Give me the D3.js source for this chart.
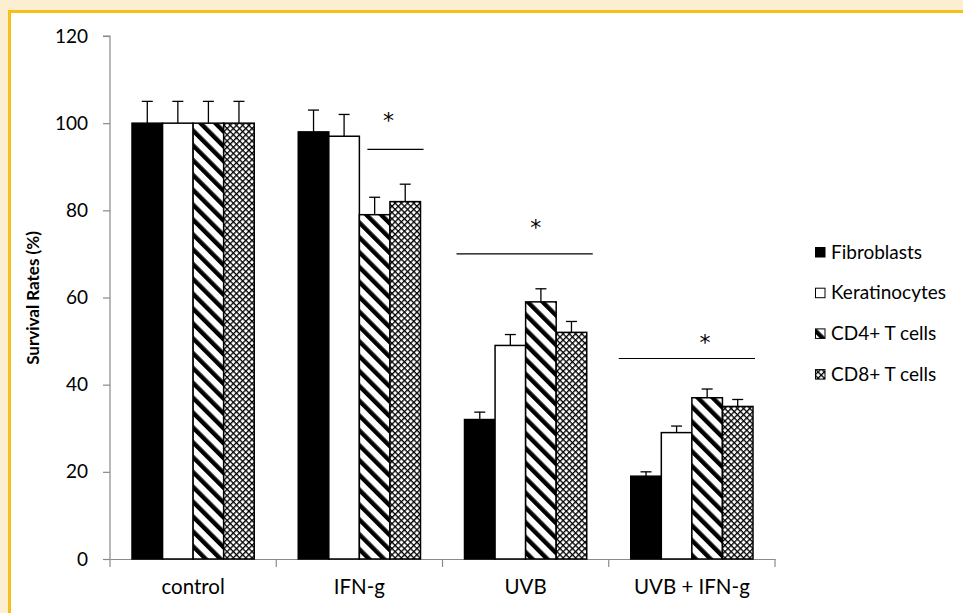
<!DOCTYPE html>
<html><head><meta charset="utf-8">
<script src="https://cdn.jsdelivr.net/npm/d3@7"></script>
<style>html,body{margin:0;padding:0;background:#fcefd1;}svg{display:block;}</style>
</head><body>
<script>
const categories = ["control", "IFN-g", "UVB", "UVB + IFN-g"];
const seriesNames = ["Fibroblasts", "Keratinocytes", "CD4+ T cells", "CD8+ T cells"];
const fibroblasts   = [100, 98, 32, 19];
const keratinocytes = [100, 97, 49, 29];
const cd4           = [100, 79, 59, 37];
const cd8           = [100, 82, 52, 35];
const fibroblastsErr   = [5, 5, 1.7, 1];
const keratinocytesErr = [5, 5, 2.5, 1.5];
const cd4Err           = [5, 4, 3, 2];
const cd8Err           = [5, 4, 2.5, 1.6];
const yTicks = [0, 20, 40, 60, 80, 100, 120];
// significance markers
const sigCategories = ["IFN-g", "UVB", "UVB + IFN-g"];
const sigFrom = [2, 0, 0];
const sigLevel = [94, 70, 46];
const sigStarLevel = [102.5, 78, 51.5];

const values = [fibroblasts, keratinocytes, cd4, cd8];
const errs = [fibroblastsErr, keratinocytesErr, cd4Err, cd8Err];

const W = 963, H = 613;
const svg = d3.select("body").append("svg").attr("width", W).attr("height", H);
const font = "Lato, 'Open Sans', sans-serif";

const defs = svg.append("defs");
const stripe = defs.append("pattern").attr("id", "stripe").attr("patternUnits", "userSpaceOnUse")
  .attr("width", 10.5).attr("height", 10.5).attr("patternTransform", "rotate(-45)");
stripe.append("rect").attr("width", 10.5).attr("height", 10.5).attr("fill", "#fff");
stripe.append("rect").attr("width", 4.4).attr("height", 10.5).attr("fill", "#000");
const check = defs.append("pattern").attr("id", "check").attr("patternUnits", "userSpaceOnUse")
  .attr("width", 4.4).attr("height", 4.4).attr("patternTransform", "rotate(45)");
check.append("rect").attr("width", 4.4).attr("height", 4.4).attr("fill", "#fff");
check.append("rect").attr("width", 1.3).attr("height", 4.4).attr("fill", "#000");
check.append("rect").attr("width", 4.4).attr("height", 1.3).attr("fill", "#000");

const fills = ["#000", "#fff", "url(#stripe)", "url(#check)"];

// panel
svg.append("rect").attr("x", 9.5).attr("y", 11.5).attr("width", W).attr("height", H)
  .attr("fill", "#fff").attr("stroke", "#f6c018").attr("stroke-width", 3);

const x0 = d3.scaleBand().domain(categories).range([110, 775]).paddingInner(0).paddingOuter(0);
const x1 = d3.scaleBand().domain(d3.range(4)).range([0, x0.bandwidth()]).paddingOuter(0.72).paddingInner(0);
const y = d3.scaleLinear().domain([0, 120]).range([559, 36]);

// axes
const yAxis = svg.append("g").attr("transform", "translate(110,0)")
  .call(d3.axisLeft(y).tickValues(yTicks).tickSize(7).tickPadding(15));
const xAxis = svg.append("g").attr("transform", "translate(0,559)")
  .call(d3.axisBottom(x0).tickValues([]).tickSizeOuter(0));
[yAxis, xAxis].forEach(g => {
  g.select(".domain").attr("stroke", "#8a8a8a").attr("stroke-width", 1.2);
  g.selectAll(".tick line").attr("stroke", "#8a8a8a").attr("stroke-width", 1.2);
  g.selectAll("text").attr("font-family", font).attr("font-size", 19).attr("fill", "#000");
});
yAxis.select(".domain").attr("d", "M-7,36H0V559");
const bounds = categories.map(c => x0(c)).concat([x0(categories[3]) + x0.bandwidth()]);
svg.append("g").selectAll("line").data(bounds).join("line")
  .attr("x1", d => d).attr("x2", d => d).attr("y1", 559).attr("y2", 567)
  .attr("stroke", "#8a8a8a").attr("stroke-width", 1.2);
svg.append("g").selectAll("text").data(categories).join("text")
  .attr("x", d => x0(d) + x0.bandwidth() / 2).attr("y", 594)
  .attr("text-anchor", "middle").attr("font-family", font).attr("font-size", 20.5).text(d => d);

// bars
const rows = [];
categories.forEach((c, ci) => values.forEach((v, si) => rows.push({c, si, v: v[ci], e: errs[si][ci]})));
const cx = d => x0(d.c) + x1(d.si) + x1.bandwidth() / 2;
const bars = svg.append("g");
bars.selectAll("line.err").data(rows).join("line").attr("class", "err")
  .attr("x1", cx).attr("x2", cx)
  .attr("y1", d => y(d.v)).attr("y2", d => y(d.v + d.e)).attr("stroke", "#000").attr("stroke-width", 1.3);
bars.selectAll("line.cap").data(rows).join("line").attr("class", "cap")
  .attr("x1", d => cx(d) - 5.5).attr("x2", d => cx(d) + 5.5)
  .attr("y1", d => y(d.v + d.e)).attr("y2", d => y(d.v + d.e)).attr("stroke", "#000").attr("stroke-width", 1.3);
bars.selectAll("rect").data(rows).join("rect")
  .attr("x", d => x0(d.c) + x1(d.si)).attr("width", x1.bandwidth())
  .attr("y", d => y(d.v)).attr("height", d => y(0) - y(d.v))
  .attr("fill", d => fills[d.si]).attr("stroke", "#000").attr("stroke-width", 1.5);

// significance
const padL = [-8, 8, 12], padR = [3, 6, 2], starDx = [-7, 11, 18];
const sig = svg.append("g");
sigCategories.forEach((c, i) => {
  const xa = x0(c) + x1(sigFrom[i]) - padL[i];
  const xb = x0(c) + x1(3) + x1.bandwidth() + padR[i];
  sig.append("line").attr("x1", xa).attr("x2", xb).attr("y1", y(sigLevel[i])).attr("y2", y(sigLevel[i]))
    .attr("stroke", "#000").attr("stroke-width", 1.2);
  sig.append("text").attr("x", (xa + xb) / 2 + starDx[i]).attr("y", y(sigStarLevel[i]))
    .attr("dy", "0.72em").attr("text-anchor", "middle").attr("font-family", "'DejaVu Sans', sans-serif")
    .attr("font-size", 22).attr("fill", "#000").text("*");
});

// legend
const leg = svg.append("g").attr("transform", "translate(815,252)");
seriesNames.forEach((n, i) => {
  const g = leg.append("g").attr("transform", `translate(0,${i * 40.7})`);
  g.append("rect").attr("x", 0.5).attr("y", -4.5).attr("width", 9.5).attr("height", 9.5)
    .attr("fill", fills[i]).attr("stroke", "#000").attr("stroke-width", 1);
  g.append("text").attr("x", 16).attr("y", 0).attr("dy", "0.35em").attr("font-family", font)
    .attr("font-size", 19).text(n);
});

// y label
svg.append("text").attr("transform", "translate(39,298) rotate(-90)").attr("text-anchor", "middle")
  .attr("font-family", font).attr("font-weight", "bold").attr("font-size", 17).text("Survival Rates (%)");
</script>
</body></html>
